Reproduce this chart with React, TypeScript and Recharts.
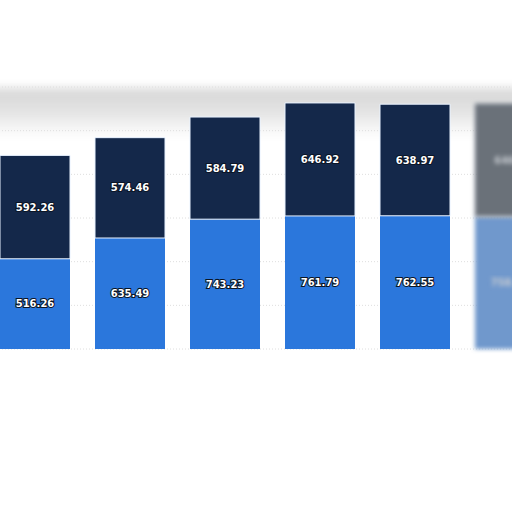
import { BarChart, Bar, XAxis, YAxis, CartesianGrid, LabelList, Cell } from "recharts";

const categories = ["P1", "P2", "P3", "P4", "P5", "P6"];
const lowerValues = [516.26, 635.49, 743.23, 761.79, 762.55, 758.32];
const upperValues = [592.26, 574.46, 584.79, 646.92, 638.97, 646.1];
const yTicks = [0, 250, 500, 750, 1000, 1250, 1500];

const chartData = categories.map((name, i) => ({
  name,
  lower: lowerValues[i],
  upper: upperValues[i],
}));

const BLUE = "#2b77dc";
const NAVY = "#14284a";
const FADED_BLUE = "#7098cc";
const FADED_NAVY = "#6b7179";

const renderLabel = (props: any) => {
  const { x, y, width, height, value, index } = props;
  const faded = index === categories.length - 1;
  return (
    <text
      x={x + width / 2}
      y={y + height / 2}
      textAnchor="middle"
      dominantBaseline="central"
      fontFamily="'DejaVu Sans', sans-serif"
      fontWeight="bold"
      fontSize={10}
      fill={faded ? "#c8ccd2" : "#ffffff"}
      stroke={faded ? "none" : "#0b1526"}
      strokeWidth={2}
      paintOrder="stroke"
      filter={faded ? "url(#softBlur)" : undefined}
    >
      {value}
    </text>
  );
};

export default function App() {
  return (
    <div style={{ position: "absolute", left: 0, top: 0, width: 512, height: 512, background: "#fff", overflow: "hidden" }}>
      {/* blurred grey haze behind the top of the plot */}
      <div
        style={{
          position: "absolute",
          left: -20,
          top: 88,
          width: 560,
          height: 50,
          background: "linear-gradient(to bottom, #d6d6d6 0%, #e2e2e2 45%, rgba(255,255,255,0) 100%)",
          filter: "blur(5px)",
        }}
      />
      <div style={{ position: "absolute", left: 0, top: 0 }}>
        <BarChart
          width={512}
          height={512}
          data={chartData}
          margin={{ top: 87, right: -45, bottom: 163, left: -13 }}
          barSize={70}
        >
          <defs>
            <filter id="softBlur" x="-20%" y="-20%" width="140%" height="140%">
              <feGaussianBlur stdDeviation="2" />
            </filter>
          </defs>
          <CartesianGrid vertical={false} stroke="#dedede" strokeDasharray="1 2" />
          <XAxis dataKey="name" hide />
          <YAxis hide domain={[0, 1500]} ticks={yTicks} />
          <Bar dataKey="lower" stackId="a" fill={BLUE} isAnimationActive={false}>
            {chartData.map((d, i) => (
              <Cell
                key={d.name}
                fill={i === categories.length - 1 ? FADED_BLUE : BLUE}
                filter={i === categories.length - 1 ? "url(#softBlur)" : undefined}
              />
            ))}
            <LabelList dataKey="lower" content={renderLabel} />
          </Bar>
          <Bar dataKey="upper" stackId="a" fill={NAVY} stroke="#e8f2ff" strokeWidth={1} isAnimationActive={false}>
            {chartData.map((d, i) => (
              <Cell
                key={d.name}
                fill={i === categories.length - 1 ? FADED_NAVY : NAVY}
                stroke={i === categories.length - 1 ? "#9aa4b0" : "#e8f2ff"}
                filter={i === categories.length - 1 ? "url(#softBlur)" : undefined}
              />
            ))}
            <LabelList dataKey="upper" content={renderLabel} />
          </Bar>
        </BarChart>
      </div>
    </div>
  );
}
